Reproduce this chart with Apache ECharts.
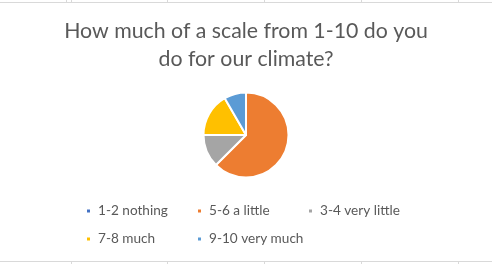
<!DOCTYPE html>
<html><head><meta charset="utf-8">
<script src="https://cdn.jsdelivr.net/npm/echarts@6/dist/echarts.min.js"></script>
<style>html,body{margin:0;padding:0;background:#fff}#c{width:492px;height:264px}</style>
</head><body><div id="c"></div>
<script>
const titleText = 'How much of a scale from 1-10 do you\ndo for our climate?';
const categories = ['1-2 nothing', '5-6 a little', '3-4 very little', '7-8 much', '9-10 very much'];
const values = [0, 15, 3, 4, 2];
const colors = ['#4472C4', '#ED7D31', '#A5A5A5', '#FFC000', '#5B9BD5'];
const legendPos = [[85, 204], [196, 204], [307, 204], [85, 232], [196, 232]];

const chart = echarts.init(document.getElementById('c'));
const gridColor = '#d9d9d9';
const vlines = [66, 71, 167, 264, 361, 458];
const graphics = [
  {type: 'line', shape: {x1: 0, y1: 2.5, x2: 492, y2: 2.5}, style: {stroke: gridColor, lineWidth: 1}},
  {type: 'line', shape: {x1: 0, y1: 261.5, x2: 492, y2: 261.5}, style: {stroke: gridColor, lineWidth: 1}}
];
vlines.forEach(x => {
  graphics.push({type: 'line', shape: {x1: x + 0.5, y1: 0, x2: x + 0.5, y2: 2}, style: {stroke: gridColor, lineWidth: 1}});
  if (x !== 66) graphics.push({type: 'line', shape: {x1: x + 0.5, y1: 262, x2: x + 0.5, y2: 264}, style: {stroke: gridColor, lineWidth: 1}});
});

chart.setOption({
  animation: false,
  color: colors,
  title: {
    text: titleText, left: 'center', top: 12,
    textStyle: {fontFamily: 'Lato', fontSize: 21.3, fontWeight: 'normal', color: '#595959', lineHeight: 28}
  },
  legend: categories.map((c, i) => ({
    data: [c], left: legendPos[i][0], top: legendPos[i][1],
    icon: 'rect', itemWidth: 5, itemHeight: 5, itemGap: 6, padding: 0,
    textStyle: {fontFamily: 'Lato', fontSize: 13.6, color: '#595959', padding: [0, 0, 0, 2]}
  })),
  graphic: graphics,
  series: [{
    type: 'pie', center: [246, 135], radius: 42.5, startAngle: 90, clockwise: true,
    label: {show: false}, labelLine: {show: false},
    itemStyle: {borderColor: '#fff', borderWidth: 2},
    emphasis: {disabled: true},
    data: categories.map((c, i) => ({name: c, value: values[i]}))
  }]
});
</script></body></html>
